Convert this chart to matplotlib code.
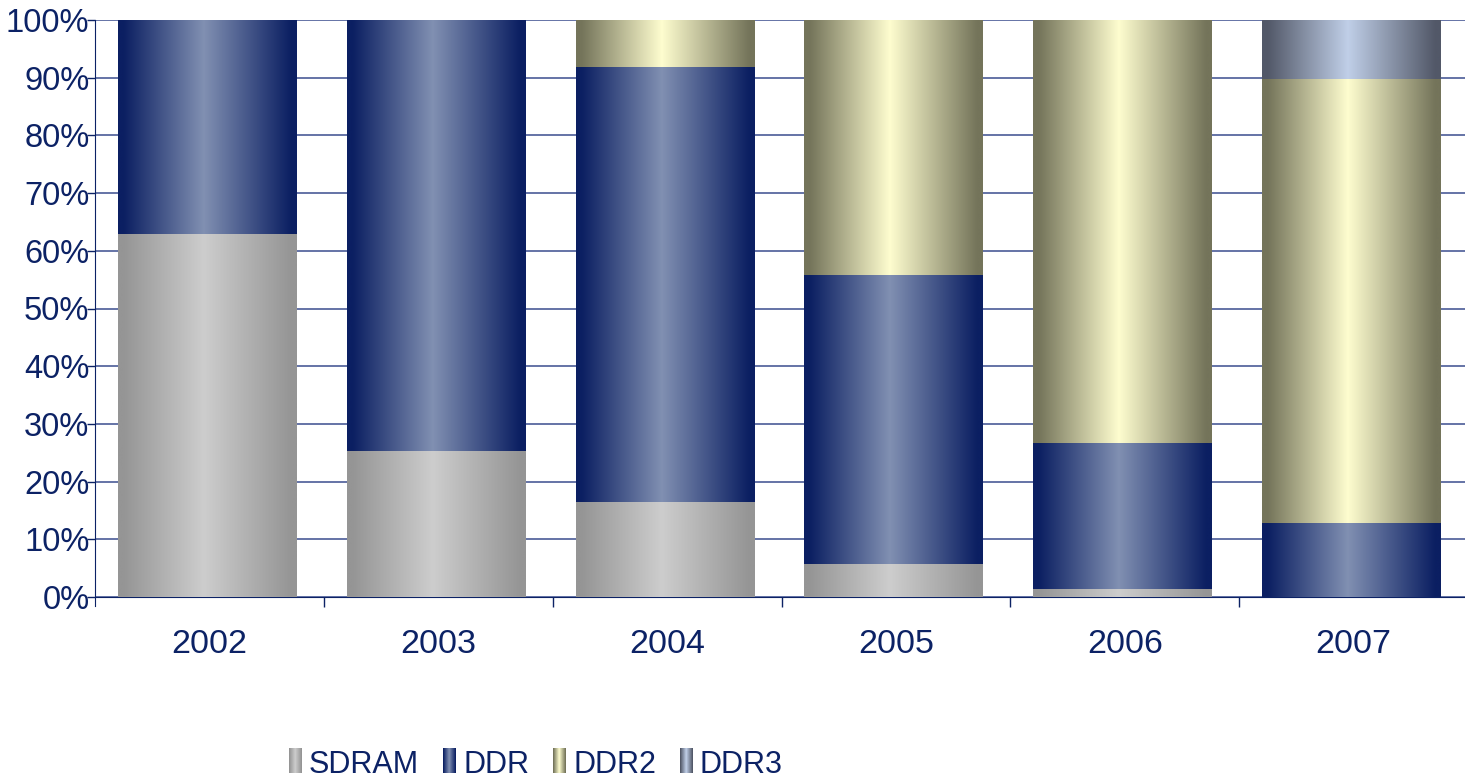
import matplotlib.pyplot as plt
import numpy as np
from matplotlib.colors import LinearSegmentedColormap

years = ['2002', '2003', '2004', '2005', '2006', '2007']
series = ['SDRAM', 'DDR', 'DDR2', 'DDR3']
sdram = [62.9, 25.3, 16.5, 5.7, 1.4, 0.0]
ddr = [37.1, 74.7, 75.4, 50.1, 25.3, 12.8]
ddr2 = [0.0, 0.0, 8.1, 44.2, 73.3, 77.0]
ddr3 = [0.0, 0.0, 0.0, 0.0, 0.0, 10.2]

# edge colour, centre colour for the cylinder-like shading
shades = {
    'SDRAM': ('#959595', '#cdcdcd'),
    'DDR': ('#0b1f62', '#8190b2'),
    'DDR2': ('#74745a', '#fefdcf'),
    'DDR3': ('#525868', '#c0cfe8'),
}
navy = '#0c2265'

plt.rcParams['font.family'] = ['Liberation Sans', 'DejaVu Sans']


def gradient(name):
    edge, centre = shades[name]
    return LinearSegmentedColormap.from_list(name, [(0, edge), (0.03, edge), (0.48, centre), (0.97, edge), (1, edge)])


fig = plt.figure(figsize=(14.65, 7.79), dpi=100)
ax = fig.add_axes([95 / 1465, 1 - 597 / 779, 1373 / 1465, 577 / 779])

grad = np.linspace(0, 1, 256).reshape(1, -1)
width = 0.78
data = {'SDRAM': sdram, 'DDR': ddr, 'DDR2': ddr2, 'DDR3': ddr3}
bottoms = np.zeros(len(years))
for name in series:
    vals = np.array(data[name])
    cmap = gradient(name)
    for i, v in enumerate(vals):
        if v <= 0:
            continue
        ax.imshow(grad, cmap=cmap, aspect='auto', interpolation='bilinear',
                  extent=(i - width / 2 - 0.01, i + width / 2 - 0.01, bottoms[i], bottoms[i] + v), zorder=3)
    bottoms += vals

ax.set_xlim(-0.5, 5.5)
ax.set_ylim(0, 100)
ax.set_yticks(np.arange(0, 101, 10))
ax.set_yticklabels([f'{v}%' for v in range(0, 101, 10)])
ax.yaxis.grid(True, color='#3a4d8e', lw=1.1, zorder=1)
ax.set_axisbelow(True)
ax.set_xticks(range(len(years)))
ax.set_xticklabels(years)
ax.set_xticks(np.arange(0.5, 5.5, 1), minor=True)
ax.tick_params(axis='x', which='major', length=0, pad=23, labelsize=24.5, labelcolor=navy)
ax.tick_params(axis='x', which='minor', length=7, width=1, color=navy, direction='out')
ax.tick_params(axis='y', length=6, width=1, color=navy, pad=-2, labelsize=23.5, labelcolor=navy)
for s in ['top', 'right']:
    ax.spines[s].set_visible(False)
ax.spines['left'].set_color(navy)
ax.spines['bottom'].set_color(navy)
ax.spines['left'].set_bounds(-1.5, 100)

# legend drawn by hand: gradient swatch + label
legend_x = [(289, 309), (443, 463), (553, 573), (680, 700)]
for name, (mx, tx) in zip(series, legend_x):
    sw = fig.add_axes([mx / 1465, 1 - 773 / 779, 13 / 1465, 25 / 779])
    sw.imshow(grad, cmap=gradient(name), aspect='auto', interpolation='nearest')
    sw.axis('off')
    fig.text(tx / 1465, 1 - 773 / 779, name, fontsize=22, color=navy, va='baseline', ha='left')

fig.savefig('out.png', dpi=100)
